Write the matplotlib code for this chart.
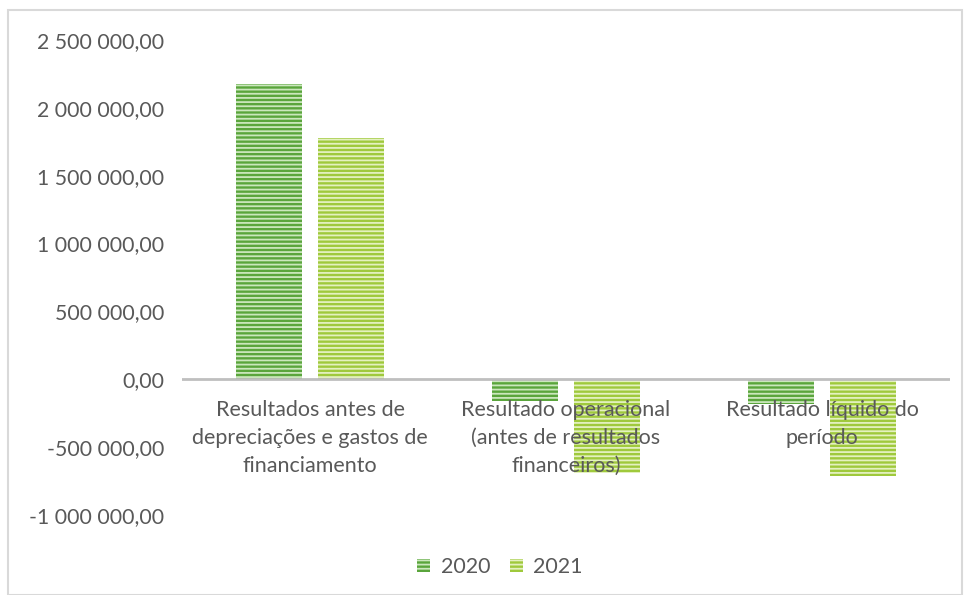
import matplotlib
matplotlib.use("Agg")
import matplotlib.pyplot as plt
import numpy as np
from matplotlib.patches import Rectangle
from matplotlib.ticker import FuncFormatter

categories = ["Resultados antes de\ndepreciações e gastos de\nfinanciamento",
              "Resultado operacional\n(antes de resultados\nfinanceiros)",
              "Resultado líquido do\nperíodo"]
series_names = ["2020", "2021"]
values_2020 = [2175000, -162000, -184000]
values_2021 = [1777000, -693000, -715000]
yticks = [-1000000, -500000, 0, 500000, 1000000, 1500000, 2000000, 2500000]

colors = ["#5aa53c", "#9fc93c"]
hatch_colors = ["#cbe7bd", "#e4f1c0"]

plt.rcParams['font.family'] = ['Lato', 'DejaVu Sans']
plt.rcParams['hatch.linewidth'] = 1.3

fig = plt.figure(figsize=(9.65, 5.95), dpi=100)
ax = fig.add_axes([182/965, 1-515/595, (950-182)/965, (515-40)/595])

x = np.arange(len(categories))
w = 0.258
off = 0.16
for vals, c, hc, d, name in [(values_2020, colors[0], hatch_colors[0], -off, series_names[0]),
                             (values_2021, colors[1], hatch_colors[1], off, series_names[1])]:
    ax.bar(x + d, vals, width=w, color=c, edgecolor=hc, linewidth=0,
           hatch='----', label=name, zorder=2)

ax.set_xlim(-0.5, len(categories) - 0.5)
ax.set_ylim(-1000000, 2500000)
ax.set_yticks(yticks)

def fmt(v, pos):
    s = f"{abs(v):,.2f}".replace(",", " ").replace(".", ",")
    return ("-" if v < 0 else "") + s
ax.yaxis.set_major_formatter(FuncFormatter(fmt))
ax.tick_params(axis='y', length=0, labelsize=15.3, labelcolor="#595959", pad=13)
ax.set_xticks([])
for s in ax.spines.values():
    s.set_visible(False)
ax.axhline(0, color="#bfbfbf", linewidth=2, zorder=3)

for i, lab in enumerate(categories):
    ax.annotate(lab, xy=(i, 0), xytext=(0, -21), textcoords='offset pixels',
                ha='center', va='top', multialignment='center',
                fontsize=15.5, color="#595959", linespacing=1.5, zorder=5,
                annotation_clip=False)

leg = fig.legend(loc='center', bbox_to_anchor=(500/965, 1-567/595), ncol=2,
                 frameon=False, fontsize=15.5, labelcolor="#595959",
                 handlelength=0.6, handleheight=0.6, handletextpad=0.5,
                 columnspacing=0.9)

fig.patches.append(Rectangle((8/965, 0.0), (962-8)/965, 1-10/595,
                             transform=fig.transFigure, fill=False,
                             edgecolor="#d9d9d9", linewidth=1.5))

fig.savefig("out.png", dpi=100, facecolor="white")
